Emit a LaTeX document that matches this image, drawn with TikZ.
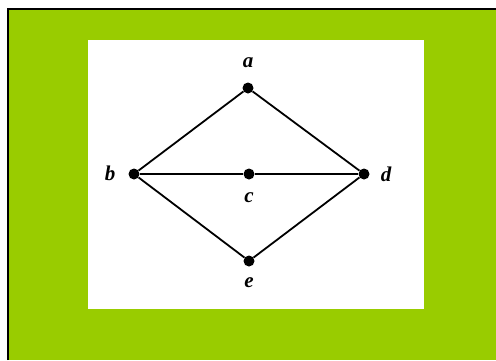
\documentclass[tikz,border=0pt]{standalone}
\usepackage{fontspec}
\setmainfont{Liberation Serif}
\definecolor{bggreen}{HTML}{99CC00}
\begin{document}
\begin{tikzpicture}[x=1pt,y=-1pt,
  vtx/.style={circle,fill=black,inner sep=0pt,minimum size=11pt},
  lbl/.style={font=\fontsize{21}{24}\selectfont\itshape\bfseries},
  edge/.style={line width=1.8pt}]
\useasboundingbox (0,0) rectangle (496,360);
\fill[white] (0,0) rectangle (496,360);
\fill[bggreen] (8,9) rectangle (496,360);
\draw[line width=2.5pt] (8,360) -- (8,9) -- (496,9);
\fill[white] (88,40) rectangle (424,309);
\node[vtx] (a) at (248,88) {};
\node[vtx] (b) at (134,174) {};
\node[vtx] (c) at (249,174) {};
\node[vtx] (d) at (364,174) {};
\node[vtx] (e) at (249,261) {};
\draw[edge] (b) -- (a) -- (d) -- (e) -- (b);
\draw[edge] (b) -- (c) -- (d);
\node[lbl] (la) at (248,63) {a};
\node[lbl] (lb) at (110,173) {b};
\node[lbl] (lc) at (249,198) {c};
\node[lbl] (ld) at (386,174) {d};
\node[lbl] (le) at (249,283) {e};
\end{tikzpicture}
\end{document}
